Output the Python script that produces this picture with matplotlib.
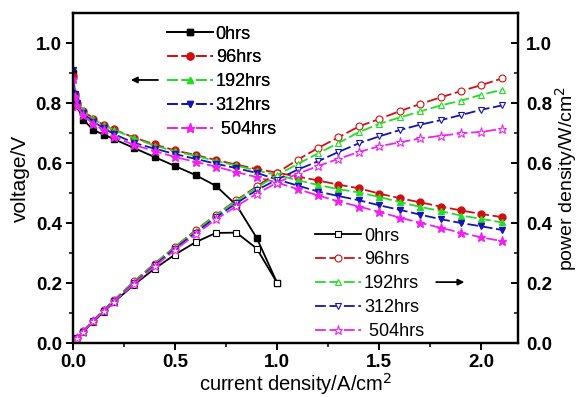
import matplotlib
matplotlib.use('Agg')
import matplotlib.pyplot as plt

plt.rcParams['font.family'] = ['Liberation Sans', 'DejaVu Sans']

# current density (A/cm2)
I_0hrs = [0, 0.01, 0.02, 0.05, 0.1, 0.15, 0.2, 0.3, 0.4, 0.5, 0.6, 0.7, 0.8, 0.9, 1.0]
I_full = [0, 0.01, 0.02, 0.05, 0.1, 0.15, 0.2, 0.3, 0.4, 0.5, 0.6, 0.7, 0.8, 0.9, 1.0,
          1.1, 1.2, 1.3, 1.4, 1.5, 1.6, 1.7, 1.8, 1.9, 2.0, 2.1]

labels = ['0hrs', '96hrs', '192hrs', '312hrs', ' 504hrs']

# voltage (V)
v_0 = [0.90, 0.82, 0.79, 0.745, 0.71, 0.695, 0.68, 0.65, 0.62, 0.59, 0.56, 0.524, 0.46, 0.35, 0.20]
v_96 = [0.89, 0.83, 0.80, 0.775, 0.748, 0.727, 0.712, 0.685, 0.662, 0.642, 0.627, 0.61, 0.595,
        0.58, 0.568, 0.555, 0.542, 0.528, 0.516, 0.498, 0.483, 0.469, 0.455, 0.442, 0.43, 0.42]
v_192 = [0.88, 0.83, 0.80, 0.778, 0.748, 0.726, 0.711, 0.683, 0.658, 0.639, 0.624, 0.607, 0.592,
         0.575, 0.56, 0.543, 0.527, 0.513, 0.502, 0.487, 0.47, 0.454, 0.44, 0.425, 0.414, 0.402]
v_312 = [0.91, 0.83, 0.80, 0.767, 0.737, 0.717, 0.697, 0.667, 0.648, 0.63, 0.614, 0.598, 0.583,
         0.567, 0.545, 0.525, 0.505, 0.49, 0.476, 0.459, 0.444, 0.428, 0.413, 0.40, 0.389, 0.377]
v_504 = [0.88, 0.82, 0.79, 0.76, 0.73, 0.71, 0.688, 0.66, 0.64, 0.62, 0.604, 0.588, 0.57,
         0.553, 0.535, 0.513, 0.492, 0.472, 0.455, 0.437, 0.418, 0.401, 0.384, 0.368, 0.352, 0.34]

# power density (W/cm2)
p_0 = [0, 0.008, 0.016, 0.037, 0.071, 0.104, 0.136, 0.195, 0.248, 0.295, 0.336, 0.367, 0.368, 0.315, 0.20]
p_96 = [0, 0.0083, 0.016, 0.039, 0.075, 0.109, 0.142, 0.206, 0.265, 0.321, 0.376, 0.427, 0.476,
        0.522, 0.568, 0.611, 0.650, 0.686, 0.722, 0.747, 0.773, 0.797, 0.819, 0.840, 0.860, 0.882]
p_192 = [0, 0.0083, 0.016, 0.039, 0.075, 0.109, 0.142, 0.205, 0.263, 0.320, 0.374, 0.425, 0.474,
         0.518, 0.560, 0.597, 0.632, 0.667, 0.703, 0.731, 0.752, 0.772, 0.792, 0.808, 0.828, 0.844]
p_312 = [0, 0.0083, 0.016, 0.038, 0.074, 0.108, 0.139, 0.200, 0.259, 0.315, 0.368, 0.419, 0.466,
         0.510, 0.545, 0.578, 0.606, 0.637, 0.666, 0.689, 0.710, 0.728, 0.743, 0.760, 0.778, 0.792]
p_504 = [0, 0.0082, 0.016, 0.038, 0.073, 0.107, 0.138, 0.198, 0.256, 0.310, 0.362, 0.412, 0.456,
         0.498, 0.535, 0.564, 0.590, 0.614, 0.637, 0.656, 0.669, 0.682, 0.691, 0.699, 0.704, 0.714]

colors = ['black', '#d01010', '#22dd22', '#1515b0', '#ee22ee']
markers = ['s', 'o', '^', 'v', '*']
x_sets = [I_0hrs, I_full, I_full, I_full, I_full]
volt_sets = [v_0, v_96, v_192, v_312, v_504]
power_sets = [p_0, p_96, p_192, p_312, p_504]

fig = plt.figure(figsize=(5.79, 3.97), dpi=100)
ax1 = fig.add_axes([0.126, 0.136, 0.769, 0.831])
ax2 = ax1.twinx()

volt_lines = []
power_lines = []
for x, v, p, c, m, lab in zip(x_sets, volt_sets, power_sets, colors, markers, labels):
    ms = 6.5 if m == '*' else 5
    lw = 1.3
    ls = '-' if c == 'black' else (0, (6, 2))
    l1, = ax1.plot(x, v, color=c, marker=m, markersize=ms, linestyle=ls, linewidth=lw,
                   markerfacecolor=c, markeredgecolor=c, label=lab)
    l2, = ax2.plot(x, p, color=c, marker=m, markersize=ms, linestyle=ls, linewidth=lw,
                   markerfacecolor='white', markeredgecolor=c, markeredgewidth=0.8, label=lab)
    volt_lines.append(l1)
    power_lines.append(l2)

ax1.set_xlim(0, 2.18)
ax1.set_ylim(0, 1.1)
ax2.set_ylim(0, 1.1)

ax1.set_xticks([0.0, 0.5, 1.0, 1.5, 2.0])
ax1.set_xticks([0.25, 0.75, 1.25, 1.75], minor=True)
ax1.set_yticks([0.0, 0.2, 0.4, 0.6, 0.8, 1.0])
ax1.set_yticks([0.1, 0.3, 0.5, 0.7, 0.9], minor=True)
ax2.set_yticks([0.0, 0.2, 0.4, 0.6, 0.8, 1.0])
ax2.set_yticks([0.1, 0.3, 0.5, 0.7, 0.9], minor=True)

for a in (ax1, ax2):
    for s in a.spines.values():
        s.set_linewidth(1.6)
ax1.tick_params(which='major', direction='out', length=5, width=1.4, labelsize=13.5, pad=3)
ax1.tick_params(which='minor', direction='out', length=3, width=1.1)
ax1.tick_params(top=False)
ax2.tick_params(which='major', direction='in', length=5, width=1.4, labelsize=13.5, pad=5.5)
ax2.tick_params(which='minor', direction='in', length=3, width=1.1)
for lbl in ax1.get_xticklabels() + ax1.get_yticklabels() + ax2.get_yticklabels():
    lbl.set_fontweight('bold')
ax1.yaxis.set_major_formatter(plt.FormatStrFormatter('%.1f'))
ax1.xaxis.set_major_formatter(plt.FormatStrFormatter('%.1f'))
ax2.yaxis.set_major_formatter(plt.FormatStrFormatter('%.1f'))

ax1.set_xlabel('current density/A/cm$^2$', fontsize=14.5, labelpad=0)
ax1.set_ylabel('voltage/V', fontsize=15, labelpad=4)
ax2.set_ylabel('power density/W/cm$^2$', fontsize=14, labelpad=0.5)

leg1 = ax1.legend(handles=volt_lines, loc='upper left', bbox_to_anchor=(0.211, 0.962),
                  frameon=False, fontsize=13, handlelength=2.55, handletextpad=0.15,
                  labelspacing=0.38, borderpad=0, borderaxespad=0)
ax1.add_artist(leg1)
ax2.legend(handles=power_lines, loc='upper left', bbox_to_anchor=(0.544, 0.35),
           frameon=False, fontsize=13, handlelength=2.55, handletextpad=0.15,
           labelspacing=0.38, borderpad=0, borderaxespad=0)

ax1.annotate('', xy=(0.27, 0.877), xytext=(0.43, 0.877),
             arrowprops=dict(arrowstyle='-|>', color='black', lw=1.3, mutation_scale=9))
ax2.annotate('', xy=(1.93, 0.203), xytext=(1.765, 0.203),
             arrowprops=dict(arrowstyle='-|>', color='black', lw=1.3, mutation_scale=9))

fig.savefig('out.png', dpi=100)
